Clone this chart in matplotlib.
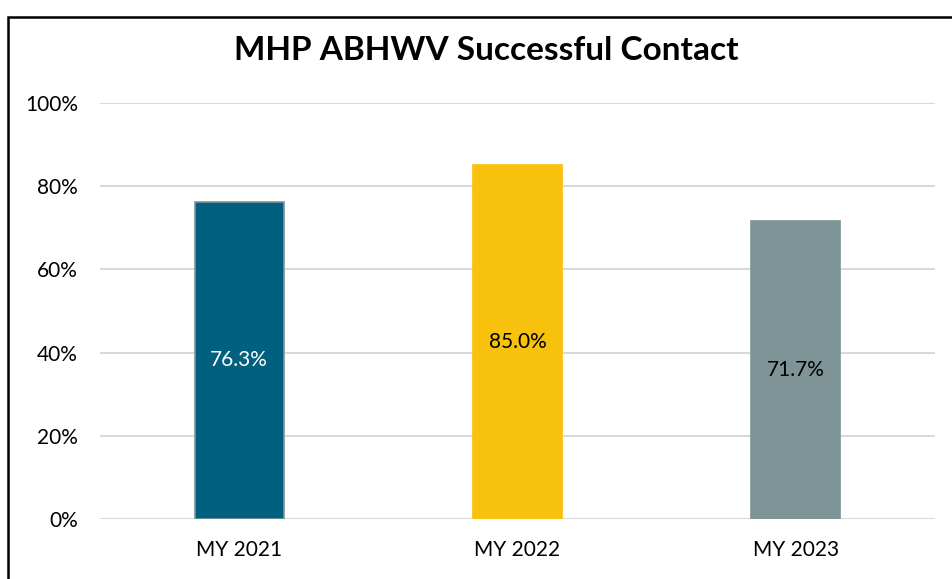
import matplotlib.pyplot as plt
from matplotlib.patches import Rectangle

plt.rcParams['font.family'] = ['Lato', 'DejaVu Sans']

# datos
categorias = ["MY 2021", "MY 2022", "MY 2023"]
valores = [76.3, 85.0, 71.7]
colores = ["#01607F", "#F7C10D", "#7F9497"]
colores_texto = ["white", "black", "black"]
ticks_y = [0, 20, 40, 60, 80, 100]

fig = plt.figure(figsize=(9.52, 5.79), dpi=100)
ax = fig.add_axes([100 / 952, 1 - 519 / 579, 835 / 952, 416 / 579])

x = range(len(categorias))
barras = ax.bar(x, valores, width=0.32, color=colores, edgecolor=["#7F9497", colores[1], colores[2]],
                linewidth=1.2, zorder=3)

for barra, v, c in zip(barras, valores, colores_texto):
    ax.text(barra.get_x() + barra.get_width() / 2, v / 2, f"{v:.1f}%",
            ha="center", va="center", fontsize=15, color=c, zorder=4)

ax.set_xlim(-0.5, 2.5)
ax.set_ylim(0, 100)
ax.set_yticks(ticks_y)
ax.set_yticklabels([f"{t}%" for t in ticks_y])
ax.set_xticks(list(x))
ax.set_xticklabels(categorias)
ax.tick_params(axis="both", length=0, labelsize=15, colors="black")
ax.tick_params(axis="y", pad=16)
ax.tick_params(axis="x", pad=15)
ax.grid(axis="y", color="#D9D9D9", linewidth=1.5, zorder=0)
for s in ax.spines.values():
    s.set_visible(False)

fig.text(486 / 952, 1 - 51 / 579, "MHP ABHWV Successful Contact", ha="center", va="center",
         fontsize=24, fontweight="bold")

# marco del gráfico (sale por la derecha y por abajo)
marco = Rectangle((8 / 952, -0.1), 1.2, 1 - 17 / 579 + 0.1, transform=fig.transFigure,
                  fill=False, edgecolor="black", linewidth=1.8, clip_on=False)
fig.patches.append(marco)

fig.savefig("out.png", dpi=100)
